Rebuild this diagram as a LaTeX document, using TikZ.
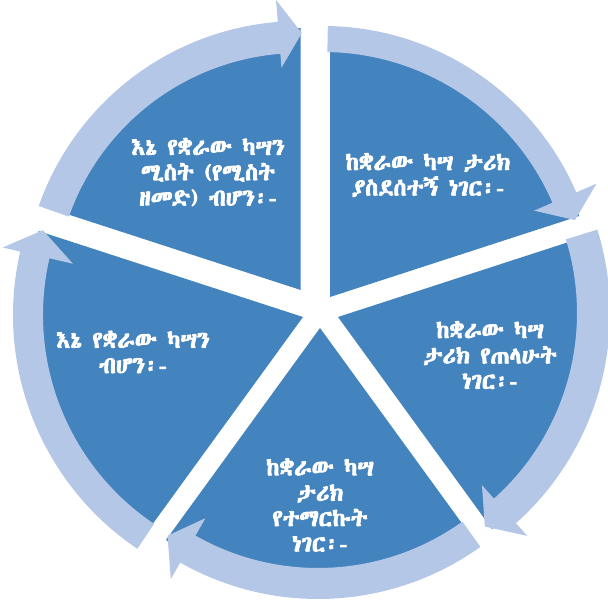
\documentclass[tikz,border=0pt]{standalone}
\usepackage{fontspec}
\newfontfamily\ethfont{Abyssinica SIL}[AutoFakeBold=3.5]
\definecolor{segblue}{RGB}{67,131,190}
\definecolor{bandblue}{RGB}{180,199,231}
\begin{document}
\begin{tikzpicture}[x=0.75pt,y=0.75pt,
  segdecorate/.style={fill=segblue},
  banddecorate/.style={fill=bandblue},
  textdecorate/.style={text=white,align=center,font=\ethfont\bfseries\fontsize{17.5}{19}\selectfont}]
\useasboundingbox (0,0) rectangle (608,600);
% segments of the pie
\fill[segdecorate] (330,303) -- +(90:262) arc[start angle=90,end angle=18,radius=262] -- cycle;
\fill[segdecorate] (338,283) -- +(18:262) arc[start angle=18,end angle=-54,radius=262] -- cycle;
\fill[segdecorate] (320,272) -- +(-54:262) arc[start angle=-54,end angle=-126,radius=262] -- cycle;
\fill[segdecorate] (303,283) -- +(234:278) arc[start angle=234,end angle=162,radius=278] -- cycle;
\fill[segdecorate] (300.7,310) -- +(162:262) arc[start angle=162,end angle=90,radius=262] -- cycle;
% arrows round the pie
\begin{scope}[shift={(323,298)}]
\fill[banddecorate] (89:250) -- (89:276) arc[start angle=89,end angle=23.4,radius=276]
  -- (23.4:298) -- (18:265) -- (23.4:230) -- (23.4:250) arc[start angle=23.4,end angle=89,radius=250] -- cycle;
\end{scope}
\begin{scope}[shift={(328,287)}]
\fill[banddecorate] (17.2:249) -- (17.2:282) arc[start angle=17.2,end angle=-48.2,radius=282]
  -- (-48.2:299) -- (-53.7:265) -- (-48.2:231) -- (-48.2:249) arc[start angle=-48.2,end angle=17.2,radius=249] -- cycle;
\end{scope}
\begin{scope}[shift={(318,280)}]
\fill[banddecorate] (-54.4:248) -- (-54.4:279) arc[start angle=-54.4,end angle=-119.6,radius=279]
  -- (-119.6:298) -- (-124.9:263) -- (-119.6:228) -- (-119.6:248) arc[start angle=-119.6,end angle=-54.4,radius=248] -- cycle;
\end{scope}
\begin{scope}[shift={(295,285)}]
\fill[banddecorate] (236:252) -- (236:282) arc[start angle=236,end angle=167,radius=282]
  -- (167:300) -- (161.4:266) -- (167:228) -- (167:252) arc[start angle=167,end angle=236,radius=252] -- cycle;
\end{scope}
\begin{scope}[shift={(300,302)}]
\fill[banddecorate] (160.6:245) -- (160.6:277) arc[start angle=160.6,end angle=94.6,radius=277]
  -- (94.6:299) -- (89.6:265) -- (94.6:231) -- (94.6:245) arc[start angle=94.6,end angle=160.6,radius=245] -- cycle;
\end{scope}
% texts
\node (t1) at (428,425) [textdecorate] {ከቋራው ካሣ ታሪክ\\ያስደሰተኝ ነገር፡-};
\node (t2) at (490,245) [textdecorate] {ከቋራው ካሣ\\ታሪክ የጠላሁት\\ነገር፡-};
\node (t3) at (320,95) [textdecorate] {ከቋራው ካሣ\\ታሪክ\\የተማርኩት\\ነገር፡-};
\node (t4) at (133,248) [textdecorate] {እኔ የቋራው ካሣን\\ብሆን፡-};
\node (t5) at (208,428) [textdecorate] {እኔ የቋራው ካሣን\\ሚስት (የሚስት\\ዘመድ) ብሆን፡-};
\end{tikzpicture}
\end{document}
